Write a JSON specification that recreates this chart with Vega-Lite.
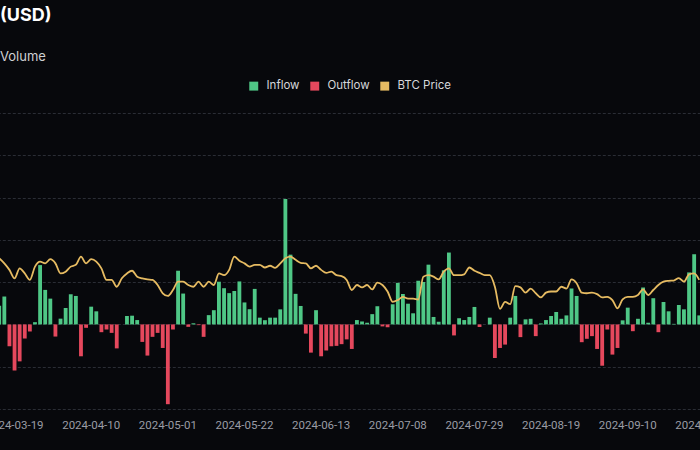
{
 "$schema": "https://vega.github.io/schema/vega-lite/v6.json",
 "width": 700,
 "height": 296,
 "autosize": {"type": "none"},
 "padding": {"left": 0, "right": 0, "top": 113, "bottom": 41},
 "background": "#07080c",
 "title": {"text": "(USD)", "subtitle": "Volume", "anchor": "start", "frame": "group", "orient": "top", "offset": 16, "fontSize": 18, "font": "Inter", "fontWeight": 700, "color": "#ffffff", "subtitleFont": "Inter", "subtitleFontSize": 13, "subtitleColor": "#cfd0d3", "subtitlePadding": 26},
 "data": {"values": [
  {"date":"2024-03-14","flow":132,"price":70900,"kind":"Inflow"},
  {"date":"2024-03-15","flow":198,"price":69200,"kind":"Inflow"},
  {"date":"2024-03-18","flow":-155,"price":67000,"kind":"Outflow"},
  {"date":"2024-03-19","flow":-326,"price":64150,"kind":"Outflow"},
  {"date":"2024-03-20","flow":-262,"price":67500,"kind":"Outflow"},
  {"date":"2024-03-21","flow":-100,"price":65800,"kind":"Outflow"},
  {"date":"2024-03-22","flow":-50,"price":63600,"kind":"Outflow"},
  {"date":"2024-03-25","flow":16,"price":68100,"kind":"Inflow"},
  {"date":"2024-03-26","flow":421,"price":69800,"kind":"Inflow"},
  {"date":"2024-03-27","flow":245,"price":69200,"kind":"Inflow"},
  {"date":"2024-03-28","flow":183,"price":70600,"kind":"Inflow"},
  {"date":"2024-04-01","flow":-86,"price":69200,"kind":"Outflow"},
  {"date":"2024-04-02","flow":41,"price":65800,"kind":"Inflow"},
  {"date":"2024-04-03","flow":116,"price":66400,"kind":"Inflow"},
  {"date":"2024-04-04","flow":214,"price":68100,"kind":"Inflow"},
  {"date":"2024-04-05","flow":202,"price":68700,"kind":"Inflow"},
  {"date":"2024-04-08","flow":-226,"price":71450,"kind":"Outflow"},
  {"date":"2024-04-09","flow":-24,"price":69200,"kind":"Outflow"},
  {"date":"2024-04-10","flow":126,"price":70600,"kind":"Inflow"},
  {"date":"2024-04-11","flow":93,"price":69800,"kind":"Inflow"},
  {"date":"2024-04-12","flow":-55,"price":67500,"kind":"Outflow"},
  {"date":"2024-04-15","flow":-36,"price":63600,"kind":"Outflow"},
  {"date":"2024-04-16","flow":-60,"price":63600,"kind":"Outflow"},
  {"date":"2024-04-17","flow":-170,"price":61300,"kind":"Outflow"},
  {"date":"2024-04-18","flow":0,"price":64150,"kind":"Inflow"},
  {"date":"2024-04-19","flow":60,"price":65800,"kind":"Inflow"},
  {"date":"2024-04-22","flow":62,"price":66700,"kind":"Inflow"},
  {"date":"2024-04-23","flow":31,"price":64700,"kind":"Inflow"},
  {"date":"2024-04-24","flow":-124,"price":64150,"kind":"Outflow"},
  {"date":"2024-04-25","flow":-221,"price":63800,"kind":"Outflow"},
  {"date":"2024-04-26","flow":-88,"price":63600,"kind":"Outflow"},
  {"date":"2024-04-29","flow":-60,"price":61900,"kind":"Outflow"},
  {"date":"2024-04-30","flow":-167,"price":59100,"kind":"Outflow"},
  {"date":"2024-05-01","flow":-566,"price":58200,"kind":"Outflow"},
  {"date":"2024-05-02","flow":-36,"price":60200,"kind":"Outflow"},
  {"date":"2024-05-03","flow":381,"price":63000,"kind":"Inflow"},
  {"date":"2024-05-06","flow":219,"price":63000,"kind":"Inflow"},
  {"date":"2024-05-07","flow":-17,"price":61900,"kind":"Outflow"},
  {"date":"2024-05-08","flow":8,"price":61300,"kind":"Inflow"},
  {"date":"2024-05-09","flow":-5,"price":63000,"kind":"Outflow"},
  {"date":"2024-05-10","flow":-88,"price":61300,"kind":"Outflow"},
  {"date":"2024-05-13","flow":66,"price":63000,"kind":"Inflow"},
  {"date":"2024-05-14","flow":101,"price":61900,"kind":"Inflow"},
  {"date":"2024-05-15","flow":303,"price":65800,"kind":"Inflow"},
  {"date":"2024-05-16","flow":257,"price":65200,"kind":"Inflow"},
  {"date":"2024-05-17","flow":222,"price":67000,"kind":"Inflow"},
  {"date":"2024-05-20","flow":237,"price":71450,"kind":"Inflow"},
  {"date":"2024-05-21","flow":305,"price":70100,"kind":"Inflow"},
  {"date":"2024-05-22","flow":156,"price":69200,"kind":"Inflow"},
  {"date":"2024-05-23","flow":108,"price":68100,"kind":"Inflow"},
  {"date":"2024-05-24","flow":252,"price":68700,"kind":"Inflow"},
  {"date":"2024-05-28","flow":48,"price":68700,"kind":"Inflow"},
  {"date":"2024-05-29","flow":30,"price":67800,"kind":"Inflow"},
  {"date":"2024-05-30","flow":48,"price":68400,"kind":"Inflow"},
  {"date":"2024-05-31","flow":48,"price":67700,"kind":"Inflow"},
  {"date":"2024-06-03","flow":107,"price":69200,"kind":"Inflow"},
  {"date":"2024-06-04","flow":890,"price":70900,"kind":"Inflow"},
  {"date":"2024-06-05","flow":495,"price":71450,"kind":"Inflow"},
  {"date":"2024-06-06","flow":217,"price":70400,"kind":"Inflow"},
  {"date":"2024-06-07","flow":131,"price":69400,"kind":"Inflow"},
  {"date":"2024-06-10","flow":-65,"price":69200,"kind":"Outflow"},
  {"date":"2024-06-11","flow":-200,"price":67500,"kind":"Outflow"},
  {"date":"2024-06-12","flow":101,"price":68400,"kind":"Inflow"},
  {"date":"2024-06-13","flow":-226,"price":67000,"kind":"Outflow"},
  {"date":"2024-06-14","flow":-185,"price":66000,"kind":"Outflow"},
  {"date":"2024-06-17","flow":-155,"price":66400,"kind":"Outflow"},
  {"date":"2024-06-18","flow":-152,"price":65200,"kind":"Outflow"},
  {"date":"2024-06-20","flow":-140,"price":64900,"kind":"Outflow"},
  {"date":"2024-06-21","flow":-106,"price":63600,"kind":"Outflow"},
  {"date":"2024-06-24","flow":-174,"price":60200,"kind":"Outflow"},
  {"date":"2024-06-25","flow":31,"price":61900,"kind":"Inflow"},
  {"date":"2024-06-26","flow":21,"price":61100,"kind":"Inflow"},
  {"date":"2024-06-27","flow":12,"price":61900,"kind":"Inflow"},
  {"date":"2024-06-28","flow":73,"price":60400,"kind":"Inflow"},
  {"date":"2024-07-01","flow":129,"price":62700,"kind":"Inflow"},
  {"date":"2024-07-02","flow":-14,"price":61900,"kind":"Outflow"},
  {"date":"2024-07-03","flow":-20,"price":59700,"kind":"Outflow"},
  {"date":"2024-07-05","flow":143,"price":56200,"kind":"Inflow"},
  {"date":"2024-07-08","flow":295,"price":56800,"kind":"Inflow"},
  {"date":"2024-07-09","flow":216,"price":57900,"kind":"Inflow"},
  {"date":"2024-07-10","flow":147,"price":57300,"kind":"Inflow"},
  {"date":"2024-07-11","flow":79,"price":57300,"kind":"Inflow"},
  {"date":"2024-07-12","flow":310,"price":57000,"kind":"Inflow"},
  {"date":"2024-07-15","flow":301,"price":64700,"kind":"Inflow"},
  {"date":"2024-07-16","flow":424,"price":65200,"kind":"Inflow"},
  {"date":"2024-07-17","flow":53,"price":64700,"kind":"Inflow"},
  {"date":"2024-07-18","flow":19,"price":63800,"kind":"Inflow"},
  {"date":"2024-07-19","flow":384,"price":66400,"kind":"Inflow"},
  {"date":"2024-07-22","flow":510,"price":67500,"kind":"Inflow"},
  {"date":"2024-07-23","flow":-78,"price":65200,"kind":"Outflow"},
  {"date":"2024-07-24","flow":44,"price":65200,"kind":"Inflow"},
  {"date":"2024-07-25","flow":31,"price":65500,"kind":"Inflow"},
  {"date":"2024-07-26","flow":53,"price":67800,"kind":"Inflow"},
  {"date":"2024-07-29","flow":124,"price":66700,"kind":"Inflow"},
  {"date":"2024-07-30","flow":-18,"price":66000,"kind":"Outflow"},
  {"date":"2024-07-31","flow":0,"price":65200,"kind":"Inflow"},
  {"date":"2024-08-01","flow":48,"price":65200,"kind":"Inflow"},
  {"date":"2024-08-02","flow":-238,"price":61300,"kind":"Outflow"},
  {"date":"2024-08-05","flow":-167,"price":53800,"kind":"Outflow"},
  {"date":"2024-08-06","flow":-143,"price":56200,"kind":"Outflow"},
  {"date":"2024-08-07","flow":48,"price":55400,"kind":"Inflow"},
  {"date":"2024-08-08","flow":202,"price":61500,"kind":"Inflow"},
  {"date":"2024-08-09","flow":-90,"price":61100,"kind":"Outflow"},
  {"date":"2024-08-12","flow":36,"price":59300,"kind":"Inflow"},
  {"date":"2024-08-13","flow":40,"price":60700,"kind":"Inflow"},
  {"date":"2024-08-14","flow":-83,"price":59100,"kind":"Outflow"},
  {"date":"2024-08-15","flow":7,"price":57700,"kind":"Inflow"},
  {"date":"2024-08-16","flow":31,"price":59300,"kind":"Inflow"},
  {"date":"2024-08-19","flow":60,"price":59700,"kind":"Inflow"},
  {"date":"2024-08-20","flow":88,"price":59700,"kind":"Inflow"},
  {"date":"2024-08-21","flow":40,"price":61300,"kind":"Inflow"},
  {"date":"2024-08-22","flow":64,"price":60700,"kind":"Inflow"},
  {"date":"2024-08-23","flow":255,"price":63800,"kind":"Inflow"},
  {"date":"2024-08-26","flow":202,"price":62500,"kind":"Inflow"},
  {"date":"2024-08-27","flow":-126,"price":59300,"kind":"Outflow"},
  {"date":"2024-08-28","flow":-102,"price":59100,"kind":"Outflow"},
  {"date":"2024-08-29","flow":-83,"price":59300,"kind":"Outflow"},
  {"date":"2024-08-30","flow":-174,"price":58800,"kind":"Outflow"},
  {"date":"2024-09-03","flow":-293,"price":57700,"kind":"Outflow"},
  {"date":"2024-09-04","flow":-36,"price":57900,"kind":"Outflow"},
  {"date":"2024-09-05","flow":-214,"price":56800,"kind":"Outflow"},
  {"date":"2024-09-06","flow":-167,"price":54000,"kind":"Outflow"},
  {"date":"2024-09-09","flow":29,"price":57000,"kind":"Inflow"},
  {"date":"2024-09-10","flow":119,"price":57900,"kind":"Inflow"},
  {"date":"2024-09-11","flow":-48,"price":57900,"kind":"Outflow"},
  {"date":"2024-09-12","flow":40,"price":58500,"kind":"Inflow"},
  {"date":"2024-09-13","flow":262,"price":60400,"kind":"Inflow"},
  {"date":"2024-09-16","flow":12,"price":58500,"kind":"Inflow"},
  {"date":"2024-09-17","flow":186,"price":60200,"kind":"Inflow"},
  {"date":"2024-09-18","flow":-55,"price":61900,"kind":"Outflow"},
  {"date":"2024-09-19","flow":159,"price":63000,"kind":"Inflow"},
  {"date":"2024-09-20","flow":93,"price":63300,"kind":"Inflow"},
  {"date":"2024-09-23","flow":4,"price":63400,"kind":"Inflow"},
  {"date":"2024-09-24","flow":138,"price":64200,"kind":"Inflow"},
  {"date":"2024-09-25","flow":107,"price":63000,"kind":"Inflow"},
  {"date":"2024-09-26","flow":369,"price":65500,"kind":"Inflow"},
  {"date":"2024-09-27","flow":498,"price":65800,"kind":"Inflow"},
  {"date":"2024-09-30","flow":64,"price":63600,"kind":"Inflow"}
 ]},
 "layer": [
  {
   "mark": {"type": "bar"},
   "encoding": {
    "x": {"field": "date", "type": "ordinal",
          "scale": {"domain": {"unionWith": ["2024-10-01"]}, "range": [-2.7, 706.3], "paddingInner": 0.25, "paddingOuter": 0},
          "axis": {"values": ["2024-03-19","2024-04-10","2024-05-01","2024-05-22","2024-06-13","2024-07-08","2024-07-29","2024-08-19","2024-09-10","2024-10-01"],
                   "labelAngle": 0, "title": null, "ticks": false, "domain": false, "grid": false, "labelPadding": 10,
                   "labelColor": "#9a9ca4", "labelFontSize": 11.5, "labelFont": "Roboto"}},
    "y": {"field": "flow", "type": "quantitative",
          "scale": {"domain": [-600, 1500], "nice": false},
          "axis": {"orient": "left", "values": [-600,-300,0,300,600,900,1200,1500], "labels": false, "ticks": false, "domain": false, "title": null}},
    "color": {"field": "kind", "type": "nominal",
              "scale": {"domain": ["Inflow","Outflow","BTC Price"], "range": ["#4fc786","#e5485d","#e6bb62"]},
              "legend": {"orient": "none", "legendX": 248, "legendY": -33, "direction": "horizontal", "title": null,
                         "symbolType": "square", "symbolSize": 80, "symbolStrokeWidth": 0, "labelColor": "#d6d7da",
                         "labelFontSize": 11.5, "labelFont": "Inter", "labelOffset": 7, "columnPadding": 9}}
   }
  },
  {
   "mark": {"type": "line", "interpolate": "monotone", "strokeWidth": 1.8},
   "encoding": {
    "x": {"field": "date", "type": "ordinal"},
    "y": {"field": "price", "type": "quantitative",
          "scale": {"domain": [20000, 120000], "nice": false, "zero": false},
          "axis": {"orient": "right", "values": [20000,40000,60000,80000,100000,120000], "labels": false, "ticks": false, "domain": false, "title": null}},
    "color": {"datum": "BTC Price"}
   }
  }
 ],
 "resolve": {"scale": {"y": "independent"}},
 "config": {
  "view": {"stroke": null},
  "axis": {"gridColor": "#2a2d35", "gridDash": [3, 2], "gridWidth": 1}
 }
}
